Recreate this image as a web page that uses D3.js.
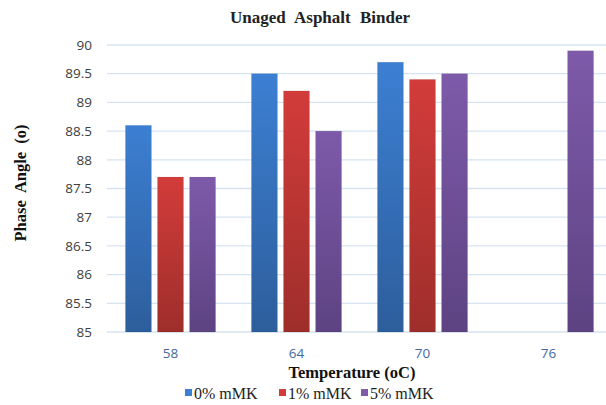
<!DOCTYPE html>
<html>
<head>
<meta charset="utf-8">
<script src="https://cdn.jsdelivr.net/npm/d3@7"></script>
<style>
  body { margin: 0; background: #fff; }
  svg { display: block; }
</style>
</head>
<body>
<svg></svg>
<script>
//chart size
const width = 606;
const height = 405;

//data
const temps = ["58", "64", "70", "76"];
const seriesNames = ["0% mMK", "1% mMK", "5% mMK"];
const mk0 = [88.6, 89.5, 89.7, null];
const mk1 = [87.7, 89.2, 89.4, null];
const mk5 = [87.7, 88.5, 89.5, 89.9];
const yTicks = [85, 85.5, 86, 86.5, 87, 87.5, 88, 88.5, 89, 89.5, 90];

const seriesValues = [mk0, mk1, mk5];
const colors = [
  ["#3c7fd2", "#2d5e9c"],
  ["#d23c3a", "#9e2e2b"],
  ["#7e5aaa", "#5d4382"]
];

const svg = d3.select("svg")
  .attr("width", width)
  .attr("height", height);

//gradients for the bars
const defs = svg.append("defs");
colors.forEach((c, i) => {
  const g = defs.append("linearGradient")
    .attr("id", "grad" + i)
    .attr("x1", 0).attr("y1", 0).attr("x2", 0).attr("y2", 1);
  g.append("stop").attr("offset", "0%").attr("stop-color", c[0]);
  g.append("stop").attr("offset", "100%").attr("stop-color", c[1]);
});

//scales
const x = d3.scaleBand()
  .domain(temps)
  .range([107.5, 611.5])
  .paddingInner(0)
  .paddingOuter(0);

const x1 = d3.scaleBand()
  .domain(d3.range(seriesNames.length))
  .range([0, x.bandwidth()])
  .paddingInner(0.19)
  .paddingOuter(0.56);

const y = d3.scaleLinear()
  .domain([85, 90])
  .range([332, 45]);

//gridlines
svg.append("g")
  .selectAll("line")
  .data(yTicks)
  .enter().append("line")
  .attr("x1", 107)
  .attr("x2", width)
  .attr("y1", d => y(d))
  .attr("y2", d => y(d))
  .attr("stroke", "#d5e3f1")
  .attr("stroke-width", 1.3);

//y tick labels
svg.append("g")
  .selectAll("text")
  .data(yTicks)
  .enter().append("text")
  .attr("x", 92)
  .attr("y", d => y(d))
  .attr("dy", "0.35em")
  .attr("text-anchor", "end")
  .attr("font-family", "Open Sans, sans-serif")
  .attr("font-size", 13.5)
  .attr("fill", "#404040")
  .text(d => d);

//bars
const groups = svg.append("g")
  .selectAll("g")
  .data(temps)
  .enter().append("g")
  .attr("transform", d => `translate(${x(d)},0)`);

groups.selectAll("rect")
  .data((d, i) => seriesValues.map((s, j) => ({ s: j, v: s[i] })).filter(e => e.v != null))
  .enter().append("rect")
  .attr("x", d => x1(d.s))
  .attr("width", x1.bandwidth())
  .attr("y", d => y(d.v))
  .attr("height", d => y(85) - y(d.v))
  .attr("fill", d => `url(#grad${d.s})`)
  .attr("stroke", "rgba(0,0,0,0.08)")
  .attr("stroke-width", 0.8);

//category labels
svg.append("g")
  .selectAll("text")
  .data(temps)
  .enter().append("text")
  .attr("x", d => x(d) + x.bandwidth() / 2)
  .attr("y", 353)
  .attr("dy", "0.35em")
  .attr("text-anchor", "middle")
  .attr("font-family", "Open Sans, sans-serif")
  .attr("font-size", 13.5)
  .attr("fill", "#44689e")
  .text(d => d);

//title
svg.append("text")
  .attr("x", 320)
  .attr("y", 23)
  .attr("text-anchor", "middle")
  .attr("font-family", "Liberation Serif, serif")
  .attr("font-weight", "bold")
  .attr("font-size", 17)
  .attr("word-spacing", 5)
  .attr("fill", "#222")
  .text("Unaged Asphalt Binder");

//axis titles
svg.append("text")
  .attr("transform", "translate(26,183) rotate(-90)")
  .attr("text-anchor", "middle")
  .attr("font-family", "Liberation Serif, serif")
  .attr("font-weight", "bold")
  .attr("font-size", 16.5)
  .attr("word-spacing", 4)
  .attr("fill", "#111")
  .text("Phase Angle (o)");

svg.append("text")
  .attr("x", 352)
  .attr("y", 378)
  .attr("text-anchor", "middle")
  .attr("font-family", "Liberation Serif, serif")
  .attr("font-weight", "bold")
  .attr("font-size", 16.5)
  .attr("fill", "#111")
  .text("Temperature (oC)");

//legend
const legendX = [185, 279, 361];
const legend = svg.append("g")
  .selectAll("g")
  .data(seriesNames)
  .enter().append("g")
  .attr("transform", (d, i) => `translate(${legendX[i]},393)`);

legend.append("rect")
  .attr("x", 0)
  .attr("y", -4)
  .attr("width", 7)
  .attr("height", 7)
  .attr("fill", (d, i) => colors[i][0]);

legend.append("text")
  .attr("x", 9)
  .attr("y", 0)
  .attr("dy", "0.35em")
  .attr("font-family", "Liberation Serif, serif")
  .attr("font-size", 16)
  .attr("fill", "#222")
  .text(d => d);
</script>
</body>
</html>
